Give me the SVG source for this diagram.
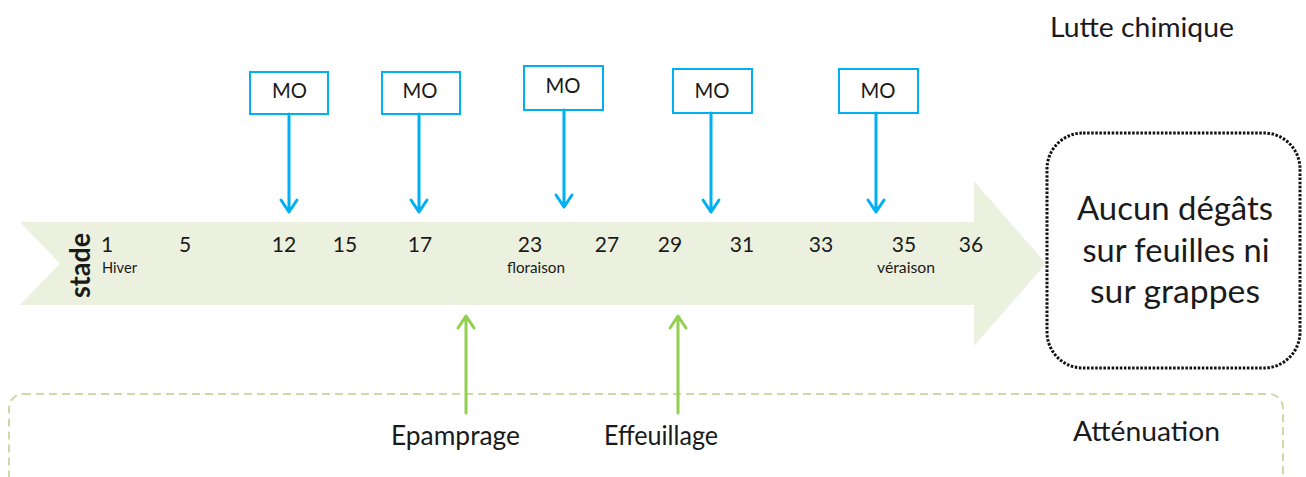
<svg xmlns="http://www.w3.org/2000/svg" width="1306" height="477" viewBox="0 0 1306 477">
<style>
  text { font-family: Lato, "Open Sans", "Liberation Sans", sans-serif; fill: #1a1a1a; }
  .num { font-size: 21px; text-anchor: middle; }
  .small { font-size: 15px; }
  .lbl { font-size: 27px; }
  .big { font-size: 32px; text-anchor: middle; }
  .mo-box { fill: #ffffff; stroke: #00B0F0; stroke-width: 2; }
  .mo-txt { font-size: 21px; text-anchor: middle; }
  .blue { stroke: #00B0F0; stroke-width: 3; fill: none; stroke-linecap: round; stroke-linejoin: round; }
  .green { stroke: #92D050; stroke-width: 3; fill: none; stroke-linecap: round; stroke-linejoin: round; }
</style>
<rect width="1306" height="477" fill="#ffffff"/>

<g id="attenuation-zone">
  <rect x="9" y="394" width="1274" height="130" rx="14" fill="none" stroke="#C9DBA6" stroke-width="2" stroke-dasharray="8 5"/>
  <text class="lbl" x="1073" y="441" textLength="147" lengthAdjust="spacingAndGlyphs">Atténuation</text>
</g>

<g id="lutte-chimique">
  <text class="lbl" x="1050" y="37" textLength="184" lengthAdjust="spacingAndGlyphs">Lutte chimique</text>
</g>

<g id="timeline">
  <path d="M20,222 L974,222 L974,181 L1046,263.5 L974,346 L974,305 L20,305 L60,263.5 Z" fill="#EBF1DE"/>
  <text x="90" y="265.5" font-size="28" font-weight="bold" text-anchor="middle" transform="rotate(-90 90 265.5)" textLength="65" lengthAdjust="spacingAndGlyphs">stade</text>
  <text class="num" x="107" y="252">1</text>
  <text class="num" x="185" y="252">5</text>
  <text class="num" x="284" y="252">12</text>
  <text class="num" x="345" y="252">15</text>
  <text class="num" x="420" y="252">17</text>
  <text class="num" x="530" y="252">23</text>
  <text class="num" x="607" y="252">27</text>
  <text class="num" x="670" y="252">29</text>
  <text class="num" x="742" y="252">31</text>
  <text class="num" x="821" y="252">33</text>
  <text class="num" x="904" y="252">35</text>
  <text class="num" x="971" y="252">36</text>
  <text class="small" x="102" y="273" textLength="35" lengthAdjust="spacingAndGlyphs">Hiver</text>
  <text class="small" x="507" y="273" textLength="58" lengthAdjust="spacingAndGlyphs">floraison</text>
  <text class="small" x="877" y="273" textLength="58" lengthAdjust="spacingAndGlyphs">véraison</text>
</g>

<g id="result">
  <rect x="1047" y="133" width="253" height="235" rx="36" fill="#ffffff" stroke="#111111" stroke-width="3" stroke-dasharray="2.5 1.6"/>
  <text class="big" x="1175" y="220" textLength="196" lengthAdjust="spacingAndGlyphs">Aucun dégâts</text>
  <text class="big" x="1176" y="262" textLength="187" lengthAdjust="spacingAndGlyphs">sur feuilles ni</text>
  <text class="big" x="1175" y="303" textLength="170" lengthAdjust="spacingAndGlyphs">sur grappes</text>
</g>

<g id="mo1">
  <rect class="mo-box" x="250" y="72" width="78" height="42"/>
  <text class="mo-txt" x="289.5" y="98" textLength="35" lengthAdjust="spacingAndGlyphs">MO</text>
</g>
<g id="mo2">
  <rect class="mo-box" x="382" y="72" width="78" height="42"/>
  <text class="mo-txt" x="420" y="98" textLength="35" lengthAdjust="spacingAndGlyphs">MO</text>
</g>
<g id="mo3">
  <rect class="mo-box" x="524" y="66" width="79" height="44"/>
  <text class="mo-txt" x="563" y="93" textLength="35" lengthAdjust="spacingAndGlyphs">MO</text>
</g>
<g id="mo4">
  <rect class="mo-box" x="673" y="69" width="79" height="44"/>
  <text class="mo-txt" x="712" y="98" textLength="35" lengthAdjust="spacingAndGlyphs">MO</text>
</g>
<g id="mo5">
  <rect class="mo-box" x="839" y="69" width="79" height="44"/>
  <text class="mo-txt" x="878" y="98" textLength="35" lengthAdjust="spacingAndGlyphs">MO</text>
</g>

<g id="epamprage">
  <text class="lbl" x="391" y="445" textLength="129" lengthAdjust="spacingAndGlyphs">Epamprage</text>
</g>
<g id="effeuillage">
  <text class="lbl" x="604" y="445" textLength="114" lengthAdjust="spacingAndGlyphs">Effeuillage</text>
</g>

<g id="connectors">
  <path class="blue" d="M289,114 L289,212 M281,200 L289,212 L297,200"/>
  <path class="blue" d="M419,114 L419,212 M411,200 L419,212 L427,200"/>
  <path class="blue" d="M564,110 L564,207 M556,195 L564,207 L572,195"/>
  <path class="blue" d="M711,113 L711,212 M703,200 L711,212 L719,200"/>
  <path class="blue" d="M876,113 L876,212 M868,200 L876,212 L884,200"/>
  <path class="green" d="M466,413 L466,316 M458,328 L466,316 L474,328"/>
  <path class="green" d="M678,413 L678,316 M670,328 L678,316 L686,328"/>
</g>
</svg>
